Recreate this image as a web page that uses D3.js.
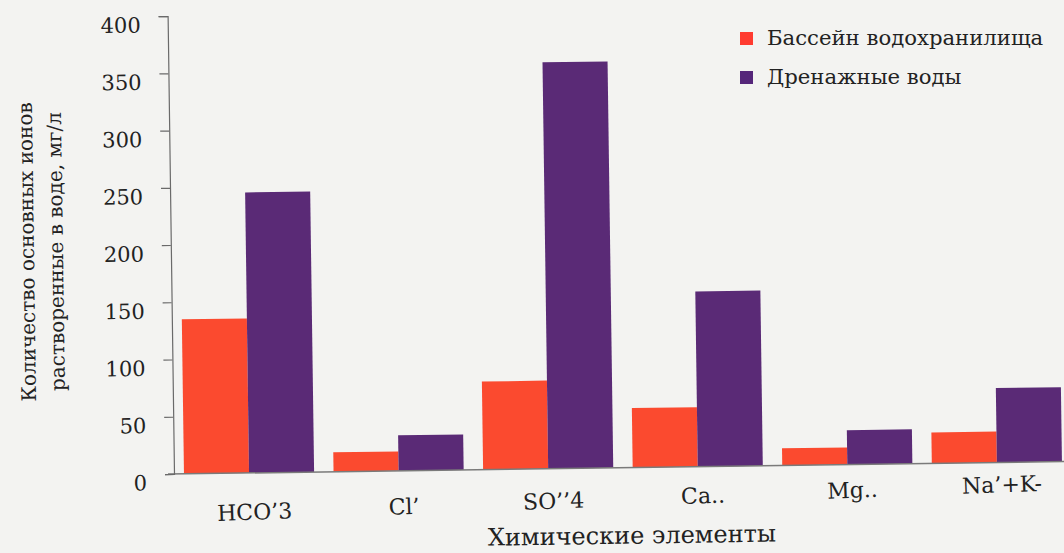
<!DOCTYPE html>
<html>
<head>
<meta charset="utf-8">
<script src="https://cdn.jsdelivr.net/npm/d3@7/dist/d3.min.js"></script>
<style>
  html, body { margin: 0; padding: 0; background: #f3f3f1; }
  svg { display: block; }
  text { font-family: "DejaVu Serif", serif; fill: #222222; }
</style>
</head>
<body>
<svg id="chart" width="1064" height="553"></svg>
<script>
// Ion categories and concentrations, mg/l
const categories = ["HCO’3", "Cl’", "SO’’4", "Ca..", "Mg..", "Na’+K-"];
const reservoirValues = [135, 17, 77, 52, 15, 27];
const drainageValues = [245, 31, 355, 153, 30, 65];
const seriesNames = ["Бассейн водохранилища", "Дренажные воды"];
const yTicks = [0, 50, 100, 150, 200, 250, 300, 350, 400];

const colors = ["#fb4a2f", "#5a2a76"];
const legendColors = ["#ff3b30", "#55267a"];

const svg = d3.select("#chart");

// Slight tilt of the whole page
const g = svg.append("g").attr("transform", "rotate(-0.8, 174, 474)");

const x0 = d3.scaleBand()
  .domain(categories)
  .range([175, 1071])
  .paddingInner(0.13)
  .paddingOuter(0.06);

const x1 = d3.scaleBand()
  .domain([0, 1])
  .range([0, x0.bandwidth()])
  .padding(0);

const y = d3.scaleLinear().domain([0, 400]).range([474, 16]);

// Bars
const series = [reservoirValues, drainageValues];
series.forEach((vals, si) => {
  g.append("g")
    .selectAll("rect")
    .data(vals)
    .join("rect")
    .attr("x", (d, i) => x0(categories[i]) + x1(si))
    .attr("width", x1.bandwidth())
    .attr("y", d => y(d))
    .attr("height", d => y(0) - y(d))
    .attr("fill", colors[si]);
});

// Baseline
g.append("line")
  .attr("x1", 168).attr("x2", 1075)
  .attr("y1", y(0)).attr("y2", y(0))
  .attr("stroke", "#7a7a7a").attr("stroke-width", 1.5);

// Y axis
const yAxis = d3.axisLeft(y).tickValues(yTicks).tickSize(9).tickPadding(18).tickFormat(d3.format("d"));
const ya = g.append("g").attr("transform", "translate(174,0)").call(yAxis);
ya.select(".domain").attr("stroke", "#6a6a6a").attr("stroke-width", 1.2);
ya.selectAll(".tick line").attr("stroke", "#6a6a6a").attr("stroke-width", 1.2);
ya.selectAll(".tick text")
  .attr("font-size", 21)
  .attr("dy", "0.74em")
  .attr("fill", "#222222")
  .style("font-family", "'DejaVu Serif', serif");

// X tick labels
const xl = g.append("g").attr("transform", "rotate(-1.3, 246, 512)");
xl.selectAll("text")
  .data(categories)
  .join("text")
  .attr("x", d => x0(d) + x0.bandwidth() / 2 + 5)
  .attr("y", 521)
  .attr("text-anchor", "middle")
  .attr("font-size", 22)
  .text(d => d);

// X axis title
g.append("text")
  .attr("x", 631).attr("y", 550)
  .attr("text-anchor", "middle")
  .attr("font-size", 24)
  .text("Химические элементы");

// Y axis title (two lines)
const yt = g.append("text")
  .attr("transform", "translate(37,250) rotate(-90)")
  .attr("text-anchor", "middle")
  .attr("font-size", 20);
yt.append("tspan").attr("x", 0).attr("dy", 0).text("Количество основных ионов");
yt.append("tspan").attr("x", 0).attr("dy", 29).text("растворенные в воде, мг/л");

// Legend
const legend = svg.append("g");
const ly = [38, 77];
seriesNames.forEach((name, i) => {
  legend.append("rect")
    .attr("x", 740).attr("y", ly[i] - 6)
    .attr("width", 13).attr("height", 13)
    .attr("fill", legendColors[i]);
  legend.append("text")
    .attr("x", 767).attr("y", ly[i] + 7)
    .attr("font-size", 21.2)
    .text(name);
});
</script>
</body>
</html>
